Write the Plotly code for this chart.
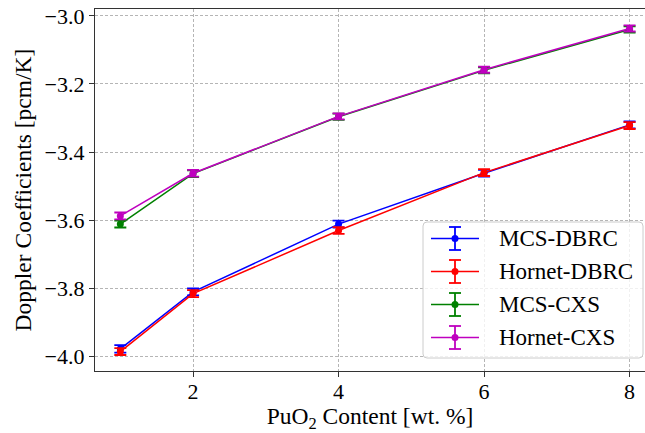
import plotly.graph_objects as go

# PuO2 content (wt. %)
puo2 = [1, 2, 4, 6, 8]

# Doppler coefficients [pcm/K] and their uncertainties
mcs_dbrc = [-3.977, -3.810, -3.611, -3.462, -3.320]
mcs_dbrc_err = [0.011, 0.010, 0.010, 0.010, 0.010]
hornet_dbrc = [-3.985, -3.815, -3.630, -3.460, -3.322]
hornet_dbrc_err = [0.010, 0.010, 0.010, 0.010, 0.010]
mcs_cxs = [-3.611, -3.463, -3.296, -3.160, -3.040]
mcs_cxs_err = [0.010, 0.010, 0.009, 0.009, 0.009]
hornet_cxs = [-3.587, -3.462, -3.295, -3.158, -3.037]
hornet_cxs_err = [0.010, 0.010, 0.009, 0.009, 0.009]

x_ticks = [2, 4, 6, 8]
y_ticks = [-4.0, -3.8, -3.6, -3.4, -3.2, -3.0]
y_tick_text = ["\u22124.0", "\u22123.8", "\u22123.6", "\u22123.4", "\u22123.2", "\u22123.0"]

series = [
    ("MCS-DBRC", mcs_dbrc, mcs_dbrc_err, "#0000ff"),
    ("Hornet-DBRC", hornet_dbrc, hornet_dbrc_err, "#ff0000"),
    ("MCS-CXS", mcs_cxs, mcs_cxs_err, "#008000"),
    ("Hornet-CXS", hornet_cxs, hornet_cxs_err, "#bf00bf"),
]

FONT = "Liberation Serif"
W, H = 645, 433
M_L, M_R, M_T, M_B = 95, 0, 9, 62
PW, PH = W - M_L - M_R, H - M_T - M_B

GRID = dict(showgrid=True, gridcolor="#b5b5b5", griddash="3px,2px", gridwidth=0.8)
SPINE = dict(showline=True, linecolor="#333333", linewidth=1.4,
             ticks="outside", ticklen=5, tickwidth=1.2, tickcolor="#333333",
             zeroline=False)


def fx(px):
    """Pixel column -> paper x."""
    return (px - M_L) / PW


def fy(py):
    """Pixel row -> paper y."""
    return (H - M_B - py) / PH


fig = go.Figure()
for name, vals, errs, color in series:
    fig.add_trace(go.Scatter(
        x=puo2, y=vals, name=name, mode="lines+markers", showlegend=False,
        line=dict(color=color, width=1.5),
        marker=dict(color=color, size=7),
        error_y=dict(type="data", array=errs, visible=True,
                     color=color, thickness=1.8, width=6),
    ))

# Legend box (errorbar-style entries) in the lower right corner
shapes = []
box_l, box_r, box_t, box_b, rad = 423, 643, 222, 358, 4
path = (
    f"M {fx(box_l + rad)},{fy(box_t)} L {fx(box_r - rad)},{fy(box_t)} "
    f"Q {fx(box_r)},{fy(box_t)} {fx(box_r)},{fy(box_t + rad)} "
    f"L {fx(box_r)},{fy(box_b - rad)} "
    f"Q {fx(box_r)},{fy(box_b)} {fx(box_r - rad)},{fy(box_b)} "
    f"L {fx(box_l + rad)},{fy(box_b)} "
    f"Q {fx(box_l)},{fy(box_b)} {fx(box_l)},{fy(box_b - rad)} "
    f"L {fx(box_l)},{fy(box_t + rad)} "
    f"Q {fx(box_l)},{fy(box_t)} {fx(box_l + rad)},{fy(box_t)} Z"
)
shapes.append(dict(type="path", xref="paper", yref="paper", path=path,
                   fillcolor="rgba(255,255,255,0.8)",
                   line=dict(color="#cccccc", width=1), layer="above"))

annotations = []
row_y = [238.5, 271.5, 304.5, 337.5]
icon_l, icon_r, icon_c, bar_h, cap_w = 431, 479, 455, 11.5, 6
for (name, _, _, color), ry in zip(series, row_y):
    line = dict(color=color, width=1.5)
    bar = dict(color=color, width=1.8)
    shapes += [
        dict(type="line", xref="paper", yref="paper", layer="above",
             x0=fx(icon_l), x1=fx(icon_r), y0=fy(ry), y1=fy(ry), line=line),
        dict(type="line", xref="paper", yref="paper", layer="above",
             x0=fx(icon_c), x1=fx(icon_c), y0=fy(ry - bar_h), y1=fy(ry + bar_h), line=bar),
        dict(type="line", xref="paper", yref="paper", layer="above",
             x0=fx(icon_c - cap_w), x1=fx(icon_c + cap_w),
             y0=fy(ry - bar_h), y1=fy(ry - bar_h), line=bar),
        dict(type="line", xref="paper", yref="paper", layer="above",
             x0=fx(icon_c - cap_w), x1=fx(icon_c + cap_w),
             y0=fy(ry + bar_h), y1=fy(ry + bar_h), line=bar),
        dict(type="circle", xref="paper", yref="paper", layer="above",
             x0=fx(icon_c - 3.5), x1=fx(icon_c + 3.5),
             y0=fy(ry + 3.5), y1=fy(ry - 3.5),
             fillcolor=color, line=dict(color=color, width=0)),
    ]
    annotations.append(dict(
        xref="paper", yref="paper", x=fx(497), y=fy(ry), xanchor="left",
        yanchor="middle", showarrow=False, text=name,
        font=dict(family=FONT, size=23, color="black"),
    ))

fig.update_layout(
    width=W, height=H,
    margin=dict(l=M_L, r=M_R, t=M_T, b=M_B),
    paper_bgcolor="white", plot_bgcolor="white",
    font=dict(family=FONT, size=22, color="black"),
    showlegend=False,
    shapes=shapes, annotations=annotations,
    xaxis=dict(
        range=[0.652, 8.212], tickvals=x_ticks, ticktext=[str(t) for t in x_ticks],
        mirror=True, **GRID, **SPINE,
        title=dict(text="PuO<sub>2</sub> Content [wt. %]", standoff=4,
                   font=dict(family=FONT, size=23.5)),
        tickfont=dict(family=FONT, size=22),
    ),
    yaxis=dict(
        range=[-4.042, -2.980], tickvals=y_ticks, ticktext=y_tick_text,
        **GRID, **SPINE,
        title=dict(text="Doppler Coefficients [pcm/K]", standoff=6,
                   font=dict(family=FONT, size=23.5)),
        tickfont=dict(family=FONT, size=22),
    ),
)

try:
    fig.update_xaxes(ticklabelstandoff=-5)
except ValueError:
    pass

fig.write_html("out.html")
